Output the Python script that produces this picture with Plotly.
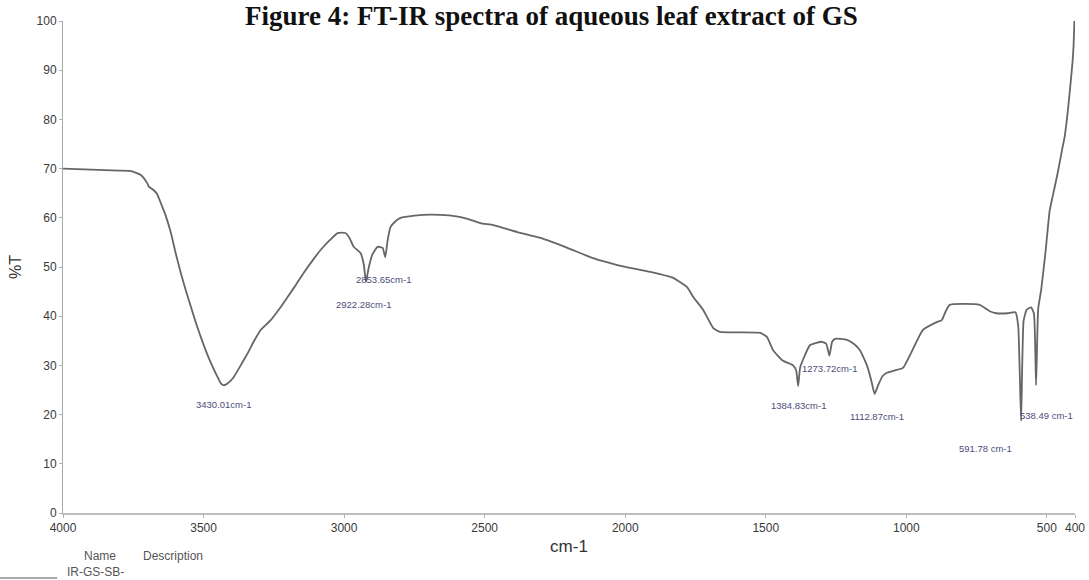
import plotly.graph_objects as go

# FT-IR transmittance spectrum (wavenumber in cm-1, %T)
wavenumber = [
    4000, 3900, 3800, 3758, 3723, 3700, 3694, 3677, 3665, 3652, 3635, 3616,
    3600, 3581, 3563, 3545, 3528, 3510, 3492, 3474, 3456, 3439, 3430.01, 3421,
    3407, 3393, 3370, 3343, 3320, 3297, 3261, 3230, 3201, 3170, 3144, 3110,
    3083, 3050, 3023, 2995, 2980, 2966, 2941, 2930, 2922.28, 2912, 2899, 2881,
    2863, 2853.65, 2845, 2835, 2815, 2799, 2782, 2720, 2657, 2600, 2561, 2515,
    2469, 2384, 2302, 2206, 2114, 2028, 1911, 1830, 1780, 1758, 1723, 1687,
    1663, 1600, 1520, 1496, 1474, 1440, 1403, 1392, 1384.83, 1378, 1368, 1343,
    1320, 1300, 1285, 1273.72, 1264, 1254, 1211, 1185, 1165, 1140, 1125,
    1112.87, 1100, 1085, 1069, 1040, 1012, 975, 941, 892, 874, 860, 846, 800,
    739, 703, 680, 640, 612, 602, 591.78, 583, 572, 556, 546, 538.49, 531, 520,
    505, 490, 480, 462, 444, 437, 425, 409, 405, 402,
]
transmittance = [
    70.0, 69.8, 69.6, 69.5, 68.7, 67.0, 66.3, 65.6, 64.8, 63.0, 60.5, 56.9,
    53.0, 48.8, 45.2, 41.9, 38.8, 35.8, 33.0, 30.5, 28.3, 26.4, 26.0, 26.1,
    26.7, 27.6, 29.8, 32.5, 35.0, 37.2, 39.2, 41.5, 43.9, 46.5, 48.8, 51.5,
    53.5, 55.5, 56.9, 56.9, 55.8, 54.1, 52.8, 50.5, 47.0, 50.0, 52.6, 54.1,
    53.9, 52.0, 55.5, 58.1, 59.4, 60.0, 60.2, 60.6, 60.6, 60.3, 59.8, 58.9,
    58.5, 57.1, 55.9, 53.9, 51.8, 50.4, 49.0, 47.8, 45.9, 43.9, 41.3, 37.6,
    36.8, 36.7, 36.6, 35.8, 33.1, 31.0, 30.0, 29.0, 25.8, 29.5, 31.1, 34.1,
    34.6, 34.8, 34.4, 32.0, 34.8, 35.4, 35.2, 34.3, 33.1, 30.0, 27.0,
    24.2, 26.0, 27.8, 28.5, 29.0, 29.5, 33.5, 37.2, 38.8, 39.2, 41.0, 42.3, 42.5,
    42.3, 41.0, 40.6, 40.6, 40.8, 38.0, 18.7, 39.0, 41.3, 41.8, 40.5, 26.0, 41.5, 45.5,
    53.0, 61.5, 64.2, 69.0, 74.4, 76.4, 82.0, 91.5, 95.0, 100.0,
]

# Labelled absorption peaks
peak_wn = [3430.01, 2922.28, 2853.65, 1384.83, 1273.72, 1112.87, 591.78, 538.49]
peak_unit = ["cm-1", "cm-1", "cm-1", "cm-1", "cm-1", "cm-1", " cm-1", " cm-1"]
peak_dx = [0, -2, -2, 0, 0, 2, -36, 10]
peak_dy = [-19, -23, -22, -19, -13, -23, -27, -30]

x_ticks = [4000, 3500, 3000, 2500, 2000, 1500, 1000, 500, 400]
y_ticks = [0, 10, 20, 30, 40, 50, 60, 70, 80, 90, 100]

W, H = 1089, 580
L, R, T, B = 63, 14, 21, 67
PW, PH = W - L - R, H - T - B


def px(xp):
    return (xp - L) / PW


def py(yp):
    return (H - B - yp) / PH


SANS = "Arial, Liberation Sans, sans-serif"

fig = go.Figure()
fig.add_trace(go.Scatter(
    x=wavenumber, y=transmittance, mode="lines",
    line=dict(color="#666666", width=1.8, shape="spline", smoothing=0.45),
    hoverinfo="x+y", showlegend=False,
))

annotations = []
for wn, unit, dx, dy in zip(peak_wn, peak_unit, peak_dx, peak_dy):
    t_val = transmittance[wavenumber.index(wn)]
    annotations.append(dict(
        x=wn, y=t_val, xref="x", yref="y", text=f"{wn:.2f}{unit}",
        showarrow=False, xshift=dx, yshift=dy,
        font=dict(family=SANS, size=9.5, color="#4d4d7c"),
    ))

# Figure caption across the top edge
annotations.append(dict(
    x=px(551), y=py(-1), xref="paper", yref="paper",
    text="<b>Figure 4: FT-IR spectra of aqueous leaf extract of GS</b>",
    showarrow=False, xanchor="center", yanchor="top",
    font=dict(family="Times New Roman, Liberation Serif, serif", size=27, color="#111111"),
))

# Sample table beneath the axis
for txt, xc, yc in [("Name", 100, 556), ("Description", 173, 556), ("IR-GS-SB-", 95, 572)]:
    annotations.append(dict(
        x=px(xc), y=py(yc), xref="paper", yref="paper", text=txt,
        showarrow=False, xanchor="center", yanchor="middle",
        font=dict(family=SANS, size=12, color="#555555"),
    ))

fig.add_shape(type="line", xref="paper", yref="paper",
              x0=px(0), x1=px(57), y0=py(578), y1=py(578),
              line=dict(color="#a8a8a8", width=2))

fig.update_layout(
    width=W, height=H,
    margin=dict(l=L, r=R, t=T, b=B, pad=0, autoexpand=False),
    paper_bgcolor="white", plot_bgcolor="white",
    annotations=annotations,
    font=dict(family=SANS, color="#333333"),
)
fig.update_xaxes(
    range=[4000, 400], tickmode="array", tickvals=x_ticks,
    ticktext=[str(v) for v in x_ticks],
    showgrid=False, zeroline=False, showline=True, automargin=False,
    linecolor="#bdbdbd", linewidth=1.5,
    ticks="outside", ticklen=3, tickcolor="#b0b0b0",
    tickfont=dict(family=SANS, size=12, color="#3a3a3a"),
    title=dict(text="cm-1", font=dict(family=SANS, size=17, color="#333333"), standoff=6),
)
fig.update_yaxes(
    range=[0, 100], tickmode="array", tickvals=y_ticks,
    showgrid=False, zeroline=False, showline=True, automargin=False,
    linecolor="#a8a8a8", linewidth=1,
    ticks="outside", ticklen=3, tickcolor="#b0b0b0",
    tickfont=dict(family=SANS, size=12, color="#3a3a3a"),
    title=dict(text="%T", font=dict(family=SANS, size=16, color="#333333"), standoff=10),
)

fig.write_html("out.html")
